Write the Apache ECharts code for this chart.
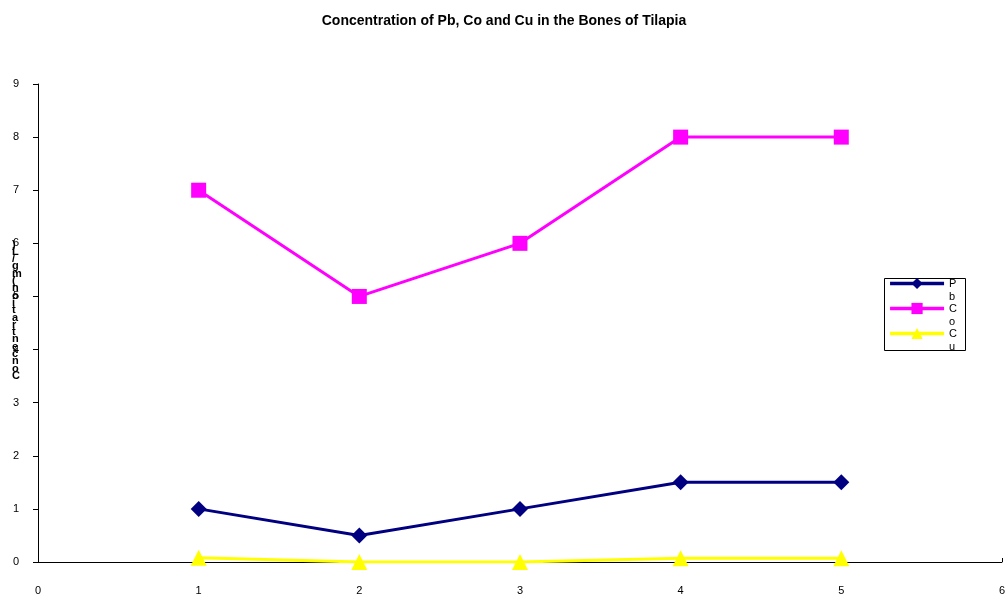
<!DOCTYPE html>
<html>
<head>
<meta charset="utf-8">
<script src="https://cdn.jsdelivr.net/npm/echarts@6/dist/echarts.min.js"></script>
<style>
  html, body { margin: 0; padding: 0; background: #fff; }
  #chart { width: 1008px; height: 600px; }
</style>
</head>
<body>
<div id="chart"></div>
<script>
// Sampling points (x) and metal concentrations per point
const samplePoints = [1, 2, 3, 4, 5];
const pbValues = [1, 0.5, 1, 1.5, 1.5];
const coValues = [7, 5, 6, 8, 8];
const cuValues = [0.08, 0, 0, 0.07, 0.07];
const seriesNames = ['Pb', 'Co', 'Cu'];
const titleText = 'Concentration of Pb, Co and Cu in the Bones of Tilapia';
const yAxisTitle = 'Concentration(mg/L)';

const pairs = vals => samplePoints.map((x, i) => [x, vals[i]]);

const chart = echarts.init(document.getElementById('chart'));

// vertical stack of the axis title, read bottom-to-top
const stacked = yAxisTitle.split('').reverse().join('\n');

const common = {
  type: 'line',
  lineStyle: { width: 3 },
  animation: false
};

chart.setOption({
  backgroundColor: '#fff',
  animation: false,
  textStyle: { fontFamily: 'Liberation Sans, Arial, sans-serif' },
  title: {
    text: titleText,
    left: 'center',
    top: 9,
    textStyle: { fontSize: 14, fontWeight: 'bold', color: '#000' }
  },
  grid: { left: 38, right: 3, top: 84, bottom: 38 },
  xAxis: {
    type: 'value',
    min: 0, max: 6, interval: 1,
    axisLine: { lineStyle: { color: '#000', width: 1 } },
    axisTick: { show: true, inside: true, length: 4, lineStyle: { color: '#000' } },
    axisLabel: { color: '#000', fontSize: 11, margin: 23 },
    splitLine: { show: false }
  },
  yAxis: {
    type: 'value',
    min: 0, max: 9, interval: 1,
    axisLine: { show: true, lineStyle: { color: '#000', width: 1 } },
    axisTick: { show: true, length: 5, lineStyle: { color: '#000' } },
    axisLabel: { color: '#000', fontSize: 11, margin: 19 },
    splitLine: { show: false }
  },
  // legend entries: series name wrapped one letter per line; a leading blank line
  // keeps the first letter level with the line sample
  legend: {
    orient: 'vertical',
    right: 51,
    top: 264,
    data: seriesNames,
    itemWidth: 54,
    itemHeight: 14,
    itemGap: -14,
    borderWidth: 0,
    padding: 0,
    lineStyle: { width: 3.5 },
    formatter: name => '\n' + name.split('').join('\n'),
    textStyle: { fontSize: 11, color: '#000', lineHeight: 13 }
  },
  graphic: [{
    type: 'rect',
    right: 42,
    top: 278,
    z: 0,
    shape: { width: 81, height: 72 },
    style: { fill: '#fff', stroke: '#000', lineWidth: 1 }
  }, {
    type: 'text',
    left: 12,
    top: 239,
    z: 10,
    style: {
      text: stacked,
      fontSize: 11,
      fontWeight: 'bold',
      lineHeight: 7.3,
      fill: '#000',
      align: 'center',
      fontFamily: 'Liberation Sans, Arial, sans-serif'
    }
  }],
  series: [
    Object.assign({}, common, {
      name: seriesNames[0], data: pairs(pbValues), symbol: 'diamond',
      symbolSize: 16, color: '#000080'
    }),
    Object.assign({}, common, {
      name: seriesNames[1], data: pairs(coValues), symbol: 'rect',
      symbolSize: 15, color: '#FF00FF'
    }),
    Object.assign({}, common, {
      name: seriesNames[2], data: pairs(cuValues), symbol: 'triangle',
      symbolSize: 16, color: '#FFFF00'
    })
  ]
});
</script>
</body>
</html>
